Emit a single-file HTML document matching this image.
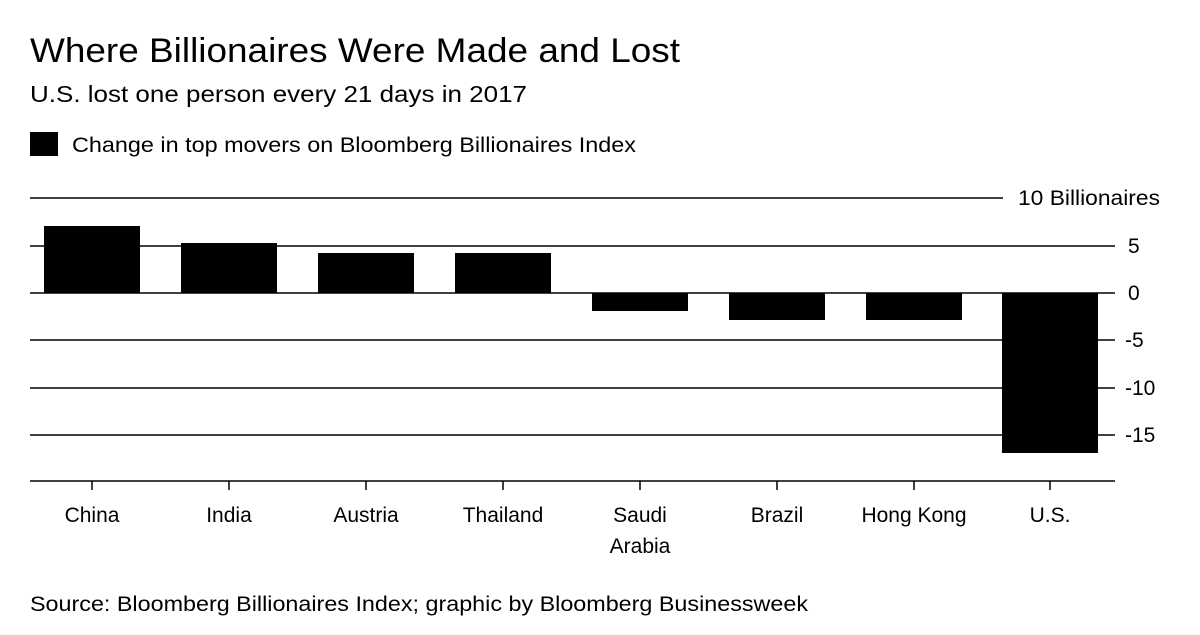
<!DOCTYPE html>
<html><head><style>
body{margin:0;background:#fff;width:1200px;height:630px;overflow:hidden;font-family:"Liberation Sans",Arial,sans-serif;color:#000}
</style></head><body>
<svg width="1200" height="630" xmlns="http://www.w3.org/2000/svg" font-family="Liberation Sans, Arial, sans-serif">
<text x="30" y="62" font-size="34" textLength="650" lengthAdjust="spacingAndGlyphs">Where Billionaires Were Made and Lost</text>
<text x="30" y="102" font-size="23" textLength="497" lengthAdjust="spacingAndGlyphs">U.S. lost one person every 21 days in 2017</text>
<rect x="30" y="132" width="28" height="24" fill="#000"/>
<text x="72" y="152" font-size="21" textLength="564" lengthAdjust="spacingAndGlyphs">Change in top movers on Bloomberg Billionaires Index</text>
<g stroke="#000" stroke-width="1.5">
<line x1="30" y1="198" x2="1003" y2="198"/>
<line x1="30" y1="246" x2="1115" y2="246"/>
<line x1="30" y1="293" x2="1115" y2="293"/>
<line x1="30" y1="340" x2="1115" y2="340"/>
<line x1="30" y1="388" x2="1115" y2="388"/>
<line x1="30" y1="435" x2="1115" y2="435"/>
<line x1="30" y1="481" x2="1115" y2="481"/>
<line x1="92" y1="481" x2="92" y2="490"/><line x1="229" y1="481" x2="229" y2="490"/><line x1="366" y1="481" x2="366" y2="490"/><line x1="503" y1="481" x2="503" y2="490"/><line x1="640" y1="481" x2="640" y2="490"/><line x1="777" y1="481" x2="777" y2="490"/><line x1="914" y1="481" x2="914" y2="490"/><line x1="1050" y1="481" x2="1050" y2="490"/>
</g>
<g fill="#000">
<rect x="44" y="226" width="96" height="67"/>
<rect x="181" y="243" width="96" height="50"/>
<rect x="318" y="253" width="96" height="40"/>
<rect x="455" y="253" width="96" height="40"/>
<rect x="592" y="293" width="96" height="18"/>
<rect x="729" y="293" width="96" height="27"/>
<rect x="866" y="293" width="96" height="27"/>
<rect x="1002" y="293" width="96" height="160"/>
</g>
<g font-size="21">
<text x="1018" y="205" textLength="142" lengthAdjust="spacingAndGlyphs">10 Billionaires</text>
<text x="1128" y="253">5</text>
<text x="1128" y="300">0</text>
<text x="1125" y="347">-5</text>
<text x="1125" y="395">-10</text>
<text x="1125" y="442">-15</text>
</g>
<g font-size="21" text-anchor="middle">
<text x="92" y="522">China</text>
<text x="229" y="522">India</text>
<text x="366" y="522">Austria</text>
<text x="503" y="522">Thailand</text>
<text x="640" y="522">Saudi</text>
<text x="640" y="553">Arabia</text>
<text x="777" y="522">Brazil</text>
<text x="914" y="522">Hong Kong</text>
<text x="1050" y="522">U.S.</text>
</g>
<text x="30" y="611" font-size="21" textLength="778" lengthAdjust="spacingAndGlyphs">Source: Bloomberg Billionaires Index; graphic by Bloomberg Businessweek</text>
</svg>
</body></html>
